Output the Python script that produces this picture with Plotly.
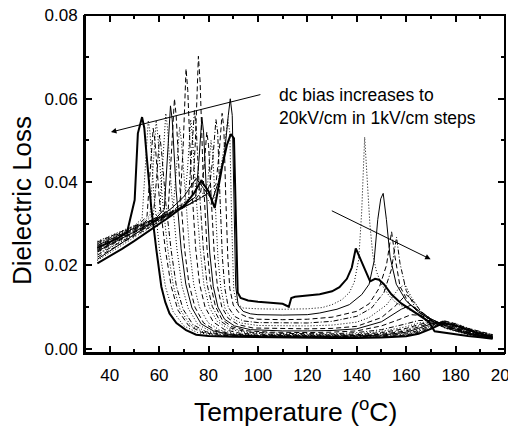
import plotly.graph_objects as go

# ---- data: temperature (degC) and dielectric loss for each dc bias 0..20 kV/cm ----
T0 = [35, 40, 45, 50, 55, 60, 65, 70, 74, 77, 80, 82.5, 85.5, 87.5, 89.0, 90.3, 91.0, 91.8, 93, 96, 100, 105, 110, 112.5, 113.5, 115, 120, 125, 130, 133, 136, 138, 139.6, 141.5, 143.5, 145.4, 147.4, 149, 151, 154, 158, 162, 166, 169, 171.5, 175, 180, 185, 190, 195]
L0 = [0.0205, 0.0222, 0.0240, 0.0259, 0.0279, 0.0299, 0.0320, 0.0343, 0.0372, 0.0403, 0.0378, 0.0338, 0.0437, 0.0490, 0.0515, 0.0505, 0.0350, 0.0135, 0.0122, 0.0116, 0.0113, 0.0111, 0.0108, 0.0101, 0.0122, 0.0125, 0.0128, 0.0131, 0.0138, 0.0148, 0.0168, 0.0195, 0.0241, 0.0215, 0.0185, 0.0162, 0.0168, 0.0166, 0.0155, 0.0131, 0.0109, 0.0093, 0.0078, 0.0066, 0.0042, 0.0039, 0.0035, 0.0031, 0.0028, 0.0024]

T1 = [35, 40, 45, 50, 55, 60, 65, 70, 73, 76, 79, 81, 84, 86.5, 87.8, 88.6, 89.4, 90.2, 91.5, 94, 100, 110, 120, 126, 130, 134, 137, 139, 140.8, 142.0, 143.2, 144.2, 145.3, 146.5, 148, 150, 153, 156, 160, 165, 169, 172, 176, 180, 185, 190, 195]
L1 = [0.0212, 0.0230, 0.0248, 0.0267, 0.0286, 0.0306, 0.0327, 0.0350, 0.0368, 0.0382, 0.0365, 0.0345, 0.0400, 0.0490, 0.0550, 0.0520, 0.0300, 0.0140, 0.0108, 0.0098, 0.0096, 0.0095, 0.0096, 0.0099, 0.0106, 0.0118, 0.0135, 0.0160, 0.0215, 0.0330, 0.0508, 0.0420, 0.0300, 0.0225, 0.0185, 0.0155, 0.0128, 0.0110, 0.0097, 0.0084, 0.0073, 0.0060, 0.0049, 0.0042, 0.0034, 0.0029, 0.0025]

T2 = [35, 40, 45, 50, 55, 60, 65, 70, 75, 78, 81.5, 84, 86.5, 88.0, 88.8, 89.6, 90.3, 91.0, 92, 94, 97, 100, 110, 120, 125, 132, 137, 142, 145, 147, 148.5, 149.7, 150.7, 152, 153.5, 156, 160, 165, 169, 172, 176, 180, 185, 190, 195]
L2 = [0.0215, 0.0234, 0.0254, 0.0274, 0.0294, 0.0315, 0.0337, 0.0365, 0.0409, 0.0385, 0.0357, 0.0400, 0.0470, 0.0560, 0.0600, 0.0560, 0.0350, 0.0150, 0.0105, 0.0090, 0.0084, 0.0082, 0.0081, 0.0082, 0.0086, 0.0095, 0.0106, 0.0130, 0.0155, 0.0210, 0.0310, 0.0360, 0.0373, 0.0310, 0.0220, 0.0155, 0.0115, 0.0088, 0.0074, 0.0060, 0.0050, 0.0043, 0.0035, 0.0030, 0.0025]

T3 = [35, 40, 45, 50, 55, 60, 65, 70, 75, 80, 83, 84.3, 85.5, 86.2, 87.0, 87.8, 88.6, 90, 92.5, 96, 100, 110, 120, 130, 140, 145, 149, 152, 154.1, 155.5, 157.5, 161, 165, 169, 172, 176, 180, 185, 190, 195]
L3 = [0.0220, 0.0237, 0.0254, 0.0271, 0.0288, 0.0305, 0.0322, 0.0339, 0.0356, 0.0373, 0.0395, 0.0470, 0.0565, 0.0530, 0.0360, 0.0220, 0.0145, 0.0105, 0.0085, 0.0075, 0.0071, 0.0070, 0.0071, 0.0076, 0.0090, 0.0108, 0.0145, 0.0200, 0.0281, 0.0220, 0.0150, 0.0110, 0.0088, 0.0073, 0.0062, 0.0052, 0.0044, 0.0036, 0.0030, 0.0026]

T4 = [35, 40, 45, 50, 55, 60, 65, 70, 75, 79, 80.5, 81.8, 83.0, 83.7, 84.6, 85.6, 86.6, 88, 90.5, 94, 100, 110, 120, 130, 140, 146, 151, 154, 156.1, 157.5, 160, 164, 169, 172, 176, 180, 185, 190, 195]
L4 = [0.0225, 0.0242, 0.0258, 0.0275, 0.0291, 0.0308, 0.0324, 0.0341, 0.0357, 0.0370, 0.0395, 0.0460, 0.0550, 0.0520, 0.0370, 0.0220, 0.0145, 0.0100, 0.0078, 0.0067, 0.0063, 0.0062, 0.0062, 0.0066, 0.0078, 0.0098, 0.0135, 0.0190, 0.0268, 0.0205, 0.0140, 0.0095, 0.0072, 0.0063, 0.0053, 0.0045, 0.0037, 0.0031, 0.0027]

T5 = [35, 40, 45, 50, 55, 60, 65, 70, 75, 78, 79.7, 81.0, 81.7, 82.7, 83.8, 85, 86.6, 89, 93, 100, 110, 120, 130, 140, 145, 152, 157, 159.5, 162, 166, 170, 174, 178, 183, 188, 195]
L5 = [0.0228, 0.0244, 0.0260, 0.0276, 0.0291, 0.0307, 0.0323, 0.0339, 0.0355, 0.0368, 0.0400, 0.0500, 0.0470, 0.0350, 0.0220, 0.0145, 0.0098, 0.0075, 0.0062, 0.0056, 0.0055, 0.0055, 0.0057, 0.0064, 0.0075, 0.0105, 0.0145, 0.0155, 0.0125, 0.0089, 0.0072, 0.0058, 0.0049, 0.0040, 0.0033, 0.0026]

T6 = [35, 40, 45, 50, 55, 60, 65, 70, 74, 76.8, 78.1, 79.3, 80.0, 81.1, 82.3, 83.6, 85.4, 88, 92, 98, 110, 120, 130, 140, 150, 156, 160, 162, 166, 170, 174, 178, 183, 188, 195]
L6 = [0.0232, 0.0248, 0.0263, 0.0279, 0.0294, 0.0310, 0.0325, 0.0341, 0.0353, 0.0375, 0.0430, 0.0520, 0.0490, 0.0360, 0.0230, 0.0150, 0.0100, 0.0073, 0.0058, 0.0050, 0.0048, 0.0048, 0.0049, 0.0054, 0.0075, 0.0105, 0.0130, 0.0120, 0.0090, 0.0071, 0.0060, 0.0050, 0.0041, 0.0034, 0.0026]

T7 = [35, 40, 45, 50, 55, 60, 65, 70, 74.8, 76.1, 77.3, 78.0, 79.2, 80.5, 81.9, 83.8, 86.5, 90.5, 97, 110, 120, 130, 140, 150, 158, 162, 166, 170, 174, 178, 183, 188, 195]
L7 = [0.0234, 0.0250, 0.0265, 0.0281, 0.0296, 0.0312, 0.0327, 0.0343, 0.0365, 0.0450, 0.0556, 0.0520, 0.0370, 0.0230, 0.0150, 0.0100, 0.0071, 0.0055, 0.0046, 0.0043, 0.0043, 0.0044, 0.0048, 0.0065, 0.0095, 0.0105, 0.0088, 0.0072, 0.0061, 0.0051, 0.0042, 0.0034, 0.0027]

T8 = [35, 40, 45, 50, 55, 60, 65, 70, 73.4, 74.7, 75.9, 76.6, 77.8, 79.4, 80.8, 82.8, 85.5, 89.5, 96, 105, 120, 130, 140, 150, 157, 162, 166, 170, 174, 178, 183, 188, 195]
L8 = [0.0236, 0.0251, 0.0266, 0.0281, 0.0296, 0.0311, 0.0326, 0.0341, 0.0360, 0.0500, 0.0702, 0.0640, 0.0420, 0.0240, 0.0155, 0.0102, 0.0070, 0.0053, 0.0043, 0.0040, 0.0039, 0.0040, 0.0043, 0.0055, 0.0070, 0.0082, 0.0080, 0.0070, 0.0061, 0.0052, 0.0043, 0.0035, 0.0027]

T9 = [35, 40, 45, 50, 55, 60, 65, 70, 71.8, 73.1, 74.3, 75.0, 76.3, 77.9, 79.4, 81.5, 84.5, 89, 96, 110, 120, 130, 140, 150, 160, 165, 170, 175, 180, 185, 190, 195]
L9 = [0.0238, 0.0253, 0.0268, 0.0283, 0.0298, 0.0313, 0.0328, 0.0343, 0.0352, 0.0460, 0.0572, 0.0530, 0.0380, 0.0240, 0.0155, 0.0102, 0.0068, 0.0050, 0.0040, 0.0037, 0.0036, 0.0036, 0.0039, 0.0046, 0.0060, 0.0068, 0.0068, 0.0059, 0.0049, 0.0040, 0.0033, 0.0027]

T10 = [35, 40, 45, 50, 55, 60, 65, 70.3, 71.6, 72.8, 73.5, 74.9, 76.6, 78.1, 80.3, 83.5, 88, 95, 105, 120, 130, 140, 150, 160, 165, 170, 175, 180, 185, 190, 195]
L10 = [0.0240, 0.0255, 0.0270, 0.0285, 0.0300, 0.0315, 0.0330, 0.0348, 0.0440, 0.0550, 0.0510, 0.0370, 0.0240, 0.0155, 0.0100, 0.0066, 0.0048, 0.0039, 0.0035, 0.0034, 0.0034, 0.0036, 0.0042, 0.0053, 0.0062, 0.0066, 0.0060, 0.0050, 0.0041, 0.0033, 0.0026]

T11 = [35, 40, 45, 50, 55, 60, 65, 68.4, 69.7, 70.9, 71.6, 73.0, 74.8, 76.4, 78.6, 82, 86.5, 93, 105, 120, 130, 140, 150, 160, 165, 170, 175, 180, 185, 190, 195]
L11 = [0.0242, 0.0257, 0.0271, 0.0286, 0.0300, 0.0315, 0.0329, 0.0345, 0.0480, 0.0672, 0.0620, 0.0410, 0.0240, 0.0155, 0.0100, 0.0064, 0.0046, 0.0037, 0.0034, 0.0033, 0.0033, 0.0034, 0.0039, 0.0049, 0.0058, 0.0065, 0.0061, 0.0051, 0.0042, 0.0034, 0.0027]

T12 = [35, 40, 45, 50, 55, 60, 64, 65.8, 67.1, 68.3, 69.0, 70.5, 72.3, 74.0, 76.3, 79.8, 84.5, 91, 100, 115, 130, 140, 150, 160, 165, 170, 175, 180, 185, 190, 195]
L12 = [0.0244, 0.0259, 0.0273, 0.0288, 0.0302, 0.0317, 0.0328, 0.0345, 0.0440, 0.0532, 0.0500, 0.0370, 0.0240, 0.0155, 0.0100, 0.0063, 0.0045, 0.0036, 0.0033, 0.0032, 0.0032, 0.0033, 0.0037, 0.0046, 0.0055, 0.0064, 0.0062, 0.0052, 0.0043, 0.0035, 0.0028]

T13 = [35, 40, 45, 50, 55, 60, 63.7, 65.0, 66.2, 66.9, 68.4, 70.3, 72.1, 74.5, 78, 83, 90, 100, 115, 130, 140, 150, 160, 165, 170, 175, 180, 185, 190, 195]
L13 = [0.0246, 0.0260, 0.0274, 0.0288, 0.0302, 0.0316, 0.0335, 0.0460, 0.0600, 0.0560, 0.0390, 0.0240, 0.0155, 0.0100, 0.0062, 0.0044, 0.0035, 0.0032, 0.0031, 0.0031, 0.0032, 0.0035, 0.0043, 0.0052, 0.0062, 0.0063, 0.0053, 0.0044, 0.0036, 0.0029]

T14 = [35, 40, 45, 50, 55, 59, 62.1, 63.4, 64.6, 65.3, 66.9, 68.9, 70.8, 73.3, 77, 82, 89, 100, 115, 130, 140, 150, 160, 165, 170, 175, 180, 185, 190, 195]
L14 = [0.0248, 0.0262, 0.0276, 0.0290, 0.0304, 0.0315, 0.0335, 0.0460, 0.0583, 0.0550, 0.0380, 0.0240, 0.0155, 0.0098, 0.0060, 0.0043, 0.0034, 0.0031, 0.0030, 0.0030, 0.0031, 0.0033, 0.0040, 0.0049, 0.0060, 0.0064, 0.0055, 0.0045, 0.0037, 0.0030]

T15 = [35, 40, 45, 50, 55, 58, 60.2, 61.5, 62.7, 63.4, 65.1, 67.2, 69.2, 71.8, 75.6, 80.8, 88, 100, 115, 130, 140, 150, 160, 165, 170, 175, 180, 185, 190, 195]
L15 = [0.0250, 0.0264, 0.0277, 0.0291, 0.0304, 0.0312, 0.0330, 0.0450, 0.0565, 0.0530, 0.0370, 0.0240, 0.0152, 0.0097, 0.0059, 0.0042, 0.0034, 0.0031, 0.0030, 0.0029, 0.0030, 0.0032, 0.0038, 0.0046, 0.0058, 0.0065, 0.0056, 0.0046, 0.0038, 0.0031]

T16 = [35, 40, 45, 50, 54, 57.7, 59.0, 60.2, 60.9, 62.7, 64.9, 67.0, 69.7, 73.7, 79, 86, 100, 115, 130, 140, 150, 160, 165, 170, 175, 180, 185, 190, 195]
L16 = [0.0252, 0.0266, 0.0279, 0.0293, 0.0303, 0.0322, 0.0410, 0.0513, 0.0480, 0.0350, 0.0235, 0.0150, 0.0095, 0.0058, 0.0041, 0.0034, 0.0030, 0.0029, 0.0029, 0.0029, 0.0031, 0.0036, 0.0044, 0.0056, 0.0066, 0.0058, 0.0047, 0.0039, 0.0032]

T17 = [35, 40, 45, 50, 53, 56.3, 57.6, 58.8, 59.5, 61.3, 63.6, 65.8, 68.5, 72.7, 78, 85, 100, 115, 130, 140, 150, 160, 165, 170, 175, 180, 185, 190, 195]
L17 = [0.0254, 0.0267, 0.0280, 0.0293, 0.0301, 0.0320, 0.0430, 0.0548, 0.0510, 0.0360, 0.0235, 0.0150, 0.0094, 0.0057, 0.0040, 0.0033, 0.0030, 0.0029, 0.0028, 0.0029, 0.0030, 0.0034, 0.0042, 0.0054, 0.0067, 0.0059, 0.0048, 0.0040, 0.0033]

T18 = [35, 40, 45, 50, 52, 55.1, 56.4, 57.6, 58.3, 60.1, 62.6, 64.9, 67.6, 71.9, 77, 84, 100, 115, 130, 140, 150, 160, 165, 170, 175, 180, 185, 190, 195]
L18 = [0.0256, 0.0269, 0.0282, 0.0295, 0.0300, 0.0318, 0.0420, 0.0529, 0.0500, 0.0360, 0.0235, 0.0150, 0.0093, 0.0056, 0.0040, 0.0033, 0.0029, 0.0028, 0.0028, 0.0028, 0.0029, 0.0033, 0.0040, 0.0052, 0.0068, 0.0060, 0.0049, 0.0041, 0.0034]

T19 = [35, 40, 45, 50, 53.1, 54.4, 55.6, 56.3, 57.9, 60.2, 62.6, 65.6, 70, 75.5, 82, 95, 110, 125, 140, 150, 160, 165, 170, 175, 180, 185, 190, 195]
L19 = [0.0258, 0.0271, 0.0283, 0.0296, 0.0312, 0.0430, 0.0548, 0.0520, 0.0370, 0.0235, 0.0148, 0.0090, 0.0055, 0.0039, 0.0033, 0.0029, 0.0028, 0.0027, 0.0028, 0.0028, 0.0032, 0.0038, 0.0050, 0.0066, 0.0061, 0.0050, 0.0041, 0.0034]

T20 = [35, 38, 41, 44, 47, 50.1, 51.4, 53.1, 54.0, 55.0, 56.8, 58.9, 60.9, 62.5, 64.2, 67, 70.9, 75, 80, 90, 100, 110, 120, 130, 140, 150, 160, 165, 170, 175, 180, 185, 190, 195]
L20 = [0.0242, 0.0250, 0.0259, 0.0268, 0.0279, 0.0357, 0.0517, 0.0556, 0.0530, 0.0460, 0.0340, 0.0237, 0.0149, 0.0112, 0.0085, 0.0062, 0.0045, 0.0034, 0.0031, 0.0029, 0.0028, 0.0027, 0.0027, 0.0026, 0.0026, 0.0027, 0.0030, 0.0036, 0.0048, 0.0062, 0.0056, 0.0046, 0.0036, 0.0029]

TEMPS = [T0, T1, T2, T3, T4, T5, T6, T7, T8, T9, T10, T11, T12, T13, T14, T15, T16, T17, T18, T19, T20]
LOSSES = [L0, L1, L2, L3, L4, L5, L6, L7, L8, L9, L10, L11, L12, L13, L14, L15, L16, L17, L18, L19, L20]
for k, (tt, ll) in enumerate(zip(TEMPS, LOSSES)):
    assert len(tt) == len(ll), (k, len(tt), len(ll))

X_TICKS = [40, 60, 80, 100, 120, 140, 160, 180, 200]
X_MINOR = [50, 70, 90, 110, 130, 150, 170, 190]
Y_TICKS = [0.00, 0.02, 0.04, 0.06, 0.08]
Y_MINOR = [0.01, 0.03, 0.05, 0.07]
X_RANGE = [30, 200]
Y_RANGE = [-0.001, 0.0801]
NOTE = "dc bias increases to<br>20kV/cm in 1kV/cm steps"

# ---- styles ----
DOT = "1px,2px"
DASH = "5px,3px"
DASHDOT = "5px,2px,1px,2px"
dash_cycle = ["solid", DOT, "solid", DASH, DASHDOT, DOT, DASH, "solid", DASH, DASHDOT,
              DOT, DASH, DOT, DASH, "solid", DOT, DASHDOT, DOT, DASH, DOT, "solid"]

FONT = "Arial, 'Liberation Sans', sans-serif"
# page body has an 8px margin: figure is sized so the plot area lands at x 85..505, y 15..353
OFF = 8
PL, PR, PT, PB = 85, 505, 15, 353
W, H = 516 - OFF, 427 - OFF

fig = go.Figure()
order = list(range(1, 20)) + [0, 20]
for i in order:
    thick = i in (0, 20)
    fig.add_trace(go.Scatter(
        x=TEMPS[i], y=LOSSES[i], mode="lines",
        line=dict(color="black", width=2.0 if thick else 1.0, dash=dash_cycle[i]),
        showlegend=False, hoverinfo="skip"))
# empty trace so the mirrored (top / right) tick axes are drawn
fig.add_trace(go.Scatter(x=[], y=[], xaxis="x2", yaxis="y2", showlegend=False, hoverinfo="skip"))

tick_common = dict(ticks="inside", ticklen=7, tickwidth=1.5, tickcolor="black",
                   showgrid=False, zeroline=False, automargin=False)
minor_common = dict(ticks="inside", ticklen=4, tickwidth=1.5, tickcolor="black")
lab_font = dict(family=FONT, size=17, color="black")

fig.update_layout(
    xaxis=dict(range=X_RANGE, tickvals=X_TICKS, minor=dict(tickvals=X_MINOR, **minor_common),
               showline=True, linewidth=2, linecolor="black", ticklabeloverflow="allow",
               ticklabelstandoff=6, tickfont=lab_font, **tick_common),
    yaxis=dict(range=Y_RANGE, tickvals=Y_TICKS, tickformat=".2f",
               minor=dict(tickvals=Y_MINOR, **minor_common),
               showline=True, linewidth=2, linecolor="black", ticklabeloverflow="allow",
               ticklabelstandoff=2, tickfont=lab_font, **tick_common),
    xaxis2=dict(range=X_RANGE, tickvals=X_TICKS, minor=dict(tickvals=X_MINOR, **minor_common),
                overlaying="x", side="top", anchor="y2", showticklabels=False,
                showline=False, **tick_common),
    yaxis2=dict(range=Y_RANGE, tickvals=Y_TICKS, minor=dict(tickvals=Y_MINOR, **minor_common),
                overlaying="y", side="right", anchor="x2", showticklabels=False,
                showline=False, **tick_common),
)

def px(xp):
    return (xp - PL) / (PR - PL)

def py(yp):
    return (PB - yp) / (PB - PT)

ann = [
    dict(x=40.5, y=0.052, ax=101.6, ay=0.0611, xref="x", yref="y", axref="x", ayref="y",
         showarrow=True, arrowhead=2, arrowsize=1.1, arrowwidth=1, arrowcolor="black", text=""),
    dict(x=169.9, y=0.0215, ax=129.3, ay=0.0333, xref="x", yref="y", axref="x", ayref="y",
         showarrow=True, arrowhead=2, arrowsize=1.1, arrowwidth=1, arrowcolor="black", text=""),
    dict(x=px(277), y=py(106), xref="paper", yref="paper",
         xanchor="left", yanchor="middle", align="left", showarrow=False,
         text=NOTE, font=dict(family=FONT, size=17.5, color="black")),
    dict(x=px(22), y=py(201), xref="paper", yref="paper",
         xanchor="center", yanchor="middle", textangle=-90, showarrow=False,
         text="Dielectric Loss", font=dict(family=FONT, size=26, color="black")),
    dict(x=0.5, y=py(410), xref="paper", yref="paper",
         xanchor="center", yanchor="middle", showarrow=False,
         text="Temperature (<sup>o</sup>C)", font=dict(family=FONT, size=26.5, color="black")),
]
# explicit frame around the plot area
frame = [dict(type="rect", xref="paper", yref="paper", x0=0, x1=1, y0=0, y1=1,
              line=dict(color="black", width=2), fillcolor="rgba(0,0,0,0)", layer="above")]
fig.update_layout(width=W, height=H,
                  margin=dict(l=PL - OFF, r=W - (PR - OFF), t=PT - OFF, b=H - (PB - OFF), pad=0),
                  plot_bgcolor="white", paper_bgcolor="white", annotations=ann,
                  shapes=frame, showlegend=False)
fig.write_html("out.html")
